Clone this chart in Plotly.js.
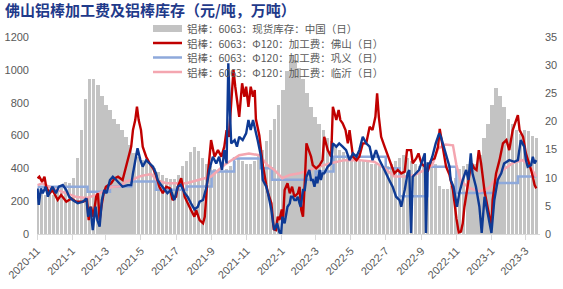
<!DOCTYPE html>
<html>
<head>
<meta charset="utf-8">
<script src="https://cdn.plot.ly/plotly-3.0.1.min.js"></script>
<style>html,body{margin:0;padding:0;background:#fff}#chart{width:563px;height:289px}</style>
</head>
<body>
<div id="chart"></div>
<script>
// ---- Inventory (万吨), weekly, right axis ----
const invDates = [
'2020-11-02','2020-11-09','2020-11-16','2020-11-23','2020-11-30','2020-12-07','2020-12-14','2020-12-21','2020-12-28',
'2021-01-04','2021-01-11','2021-01-18','2021-01-25','2021-02-01','2021-02-08','2021-02-15','2021-02-22','2021-03-01','2021-03-08','2021-03-15','2021-03-22','2021-03-29',
'2021-04-05','2021-04-12','2021-04-19','2021-04-26','2021-05-03','2021-05-10','2021-05-17','2021-05-24','2021-05-31','2021-06-07','2021-06-14','2021-06-21','2021-06-28',
'2021-07-05','2021-07-12','2021-07-19','2021-07-26','2021-08-02','2021-08-09','2021-08-16','2021-08-23','2021-08-30','2021-09-06','2021-09-13','2021-09-20','2021-09-27',
'2021-10-04','2021-10-11','2021-10-18','2021-10-25','2021-11-01','2021-11-08','2021-11-15','2021-11-22','2021-11-29','2021-12-06','2021-12-13','2021-12-20','2021-12-27',
'2022-01-03','2022-01-10','2022-01-17','2022-01-24','2022-01-31','2022-02-07','2022-02-14','2022-02-21','2022-02-28','2022-03-07','2022-03-14','2022-03-21','2022-03-28',
'2022-04-04','2022-04-11','2022-04-18','2022-04-25','2022-05-02','2022-05-09','2022-05-16','2022-05-23','2022-05-30','2022-06-06','2022-06-13','2022-06-20','2022-06-27',
'2022-07-04','2022-07-11','2022-07-18','2022-07-25','2022-08-01','2022-08-08','2022-08-15','2022-08-22','2022-08-29','2022-09-05','2022-09-12','2022-09-19','2022-09-26',
'2022-10-03','2022-10-10','2022-10-17','2022-10-24','2022-10-31','2022-11-07','2022-11-14','2022-11-21','2022-11-28','2022-12-05','2022-12-12','2022-12-19','2022-12-26',
'2023-01-02','2023-01-09','2023-01-16','2023-01-23','2023-01-30','2023-02-06','2023-02-13','2023-02-20','2023-02-27','2023-03-06','2023-03-13','2023-03-20'];
const invValues = [
7.5,7.2,7.0,7.3,7.0,7.6,8.5,9.2,9.0,
10.0,13.5,18.5,24.0,27.5,27.6,26.5,24.5,23.0,22.0,20.5,19.5,18.5,
17.3,15.8,14.4,13.7,13.2,12.8,12.5,11.8,11.0,10.5,10.0,9.8,9.7,
10.5,12.0,13.0,14.5,15.5,14.8,13.5,12.5,12.0,11.5,11.0,11.0,11.5,
12.0,13.0,13.5,13.0,12.5,12.5,13.0,14.0,15.0,16.5,18.5,20.5,23.0,
25.5,29.0,31.8,31.0,29.5,27.5,25.0,22.5,20.8,19.5,18.5,17.0,16.5,
15.5,15.0,14.5,14.0,13.8,13.5,13.0,13.0,13.0,12.5,12.5,12.0,12.0,
12.0,12.5,13.0,13.5,14.0,13.5,13.0,12.5,12.0,12.0,12.5,13.0,12.5,
8.5,8.0,8.0,8.5,10.0,11.5,12.0,12.5,12.0,12.5,14.0,17.0,19.5,
23.0,26.0,24.5,22.5,20.5,19.5,18.5,17.8,18.5,18.3,17.5,17.0];

// ---- 佛山 processing fee (元/吨) ----
const foshanDates = [
'2020-11-02','2020-11-05','2020-11-10','2020-11-14','2020-11-17','2020-11-23','2020-11-28','2020-12-07','2020-12-13','2020-12-22','2020-12-31',
'2021-01-08','2021-01-20','2021-01-27','2021-01-30','2021-02-03','2021-02-07','2021-02-12','2021-02-15','2021-02-18','2021-02-21','2021-02-25',
'2021-03-01','2021-03-10','2021-03-16','2021-03-22','2021-03-30','2021-04-05','2021-04-14','2021-04-17','2021-04-21','2021-04-24','2021-04-27',
'2021-05-01','2021-05-04','2021-05-10','2021-05-16','2021-05-22','2021-05-27','2021-06-02','2021-06-08','2021-06-14','2021-06-20','2021-06-25',
'2021-07-01','2021-07-04','2021-07-10','2021-07-16','2021-07-21','2021-07-27','2021-08-02','2021-08-05','2021-08-11','2021-08-17','2021-08-20','2021-08-25','2021-08-31',
'2021-09-06','2021-09-12','2021-09-18','2021-09-23','2021-09-27','2021-10-01','2021-10-05','2021-10-09','2021-10-12','2021-10-16','2021-10-19','2021-10-24','2021-10-28','2021-10-31',
'2021-11-04','2021-11-08','2021-11-12','2021-11-15','2021-11-17','2021-11-23','2021-11-29','2021-12-05','2021-12-08','2021-12-14','2021-12-18','2021-12-22','2021-12-25','2021-12-28',
'2022-01-01','2022-01-03','2022-01-06','2022-01-11','2022-01-15','2022-01-19','2022-01-23','2022-01-29','2022-02-01','2022-02-04','2022-02-07','2022-02-10','2022-02-13','2022-02-17','2022-02-21','2022-02-24',
'2022-03-02','2022-03-08','2022-03-13','2022-03-16','2022-03-22','2022-03-28','2022-03-31','2022-04-06','2022-04-10','2022-04-13','2022-04-17','2022-04-22','2022-04-26','2022-04-29',
'2022-05-05','2022-05-11','2022-05-16','2022-05-22','2022-05-28','2022-06-03','2022-06-08','2022-06-13','2022-06-16','2022-06-19','2022-06-23','2022-06-29',
'2022-07-05','2022-07-11','2022-07-16','2022-07-22','2022-07-28','2022-08-03','2022-08-07','2022-08-14','2022-08-17','2022-08-23','2022-08-27',
'2022-09-01','2022-09-07','2022-09-12','2022-09-18','2022-09-24','2022-09-30','2022-10-03','2022-10-08','2022-10-14','2022-10-20','2022-10-26',
'2022-11-01','2022-11-05','2022-11-09','2022-11-12','2022-11-15','2022-11-20','2022-11-24','2022-11-28','2022-12-02','2022-12-06','2022-12-10','2022-12-14','2022-12-20','2022-12-26',
'2023-01-01','2023-01-03','2023-01-09','2023-01-15','2023-01-21','2023-01-27','2023-02-01','2023-02-07','2023-02-13','2023-02-16','2023-02-19','2023-02-25',
'2023-03-02','2023-03-08','2023-03-11','2023-03-14','2023-03-17','2023-03-20'];
const foshanValues = [
339,349,318,349,288,248,268,207,238,197,217,
197,197,207,85,166,105,227,248,85,166,248,
288,309,339,349,329,410,532,633,694,775,694,
633,532,471,430,400,360,288,248,288,280,207,
227,288,340,227,187,146,105,146,85,65,105,349,572,
471,511,471,532,633,592,800,1000,900,796,714,918,836,897,
775,897,836,877,700,600,420,300,250,187,30,24,105,85,
150,70,268,309,248,288,227,248,288,146,105,309,552,511,471,420,
400,420,450,592,511,471,775,694,755,694,674,633,552,633,
471,450,471,552,552,653,633,714,857,714,592,532,
471,410,369,390,369,380,511,511,430,460,491,
430,410,380,450,460,532,640,540,410,360,268,
95,10,15,65,166,280,369,430,400,390,511,430,260,150,
45,207,369,450,552,572,511,633,694,724,633,592,
491,430,390,349,300,278];

// ---- dark blue processing fee series (not named in the visible legend) ----
const navyDates = [
'2020-11-02','2020-11-04','2020-11-08','2020-11-11','2020-11-16','2020-11-20','2020-11-23','2020-11-28','2020-12-04','2020-12-09','2020-12-16','2020-12-22','2020-12-27',
'2021-01-02','2021-01-11','2021-01-20','2021-01-26','2021-01-29','2021-02-02','2021-02-06','2021-02-11','2021-02-14','2021-02-18','2021-02-22','2021-02-26',
'2021-03-02','2021-03-08','2021-03-13','2021-03-19','2021-03-25','2021-03-30','2021-04-08','2021-04-14','2021-04-17','2021-04-21','2021-04-25','2021-04-30',
'2021-05-04','2021-05-10','2021-05-16','2021-05-22','2021-05-27','2021-05-30','2021-06-05','2021-06-11','2021-06-16','2021-06-22','2021-06-28',
'2021-07-04','2021-07-09','2021-07-16','2021-07-21','2021-07-27','2021-08-02','2021-08-08','2021-08-11','2021-08-17','2021-08-23','2021-08-28',
'2021-09-03','2021-09-09','2021-09-14','2021-09-19','2021-09-23','2021-09-27','2021-09-30','2021-10-03','2021-10-05','2021-10-11','2021-10-15','2021-10-19','2021-10-25','2021-10-31',
'2021-11-04','2021-11-08','2021-11-12','2021-11-20','2021-11-26','2021-11-29','2021-12-05','2021-12-08','2021-12-14','2021-12-17','2021-12-19','2021-12-24','2021-12-28','2021-12-31',
'2022-01-02','2022-01-06','2022-01-09','2022-01-11','2022-01-15','2022-01-17','2022-01-20','2022-01-23','2022-01-26','2022-01-29',
'2022-02-01','2022-02-03','2022-02-07','2022-02-10','2022-02-13','2022-02-15','2022-02-18','2022-02-21','2022-02-24','2022-02-27',
'2022-03-02','2022-03-04','2022-03-08','2022-03-10','2022-03-13','2022-03-16','2022-03-22','2022-03-28','2022-03-31',
'2022-04-06','2022-04-11','2022-04-17','2022-04-23','2022-04-29','2022-05-05','2022-05-11','2022-05-16','2022-05-22','2022-05-28',
'2022-06-03','2022-06-08','2022-06-14','2022-06-20','2022-06-26','2022-07-01','2022-07-07','2022-07-13','2022-07-19','2022-07-25','2022-07-28',
'2022-08-03','2022-08-08','2022-08-11','2022-08-14','2022-08-17','2022-08-23','2022-08-28','2022-09-03','2022-09-07','2022-09-09','2022-09-12','2022-09-16','2022-09-20','2022-09-26',
'2022-10-02','2022-10-05','2022-10-10','2022-10-14','2022-10-20','2022-10-22','2022-10-27','2022-11-02','2022-11-06','2022-11-12','2022-11-18','2022-11-22','2022-11-26','2022-11-29',
'2022-12-05','2022-12-11','2022-12-15','2022-12-20','2022-12-26','2023-01-01','2023-01-06','2023-01-12','2023-01-18','2023-01-23',
'2023-02-01','2023-02-10','2023-02-16','2023-02-21','2023-02-27','2023-03-02','2023-03-05','2023-03-11','2023-03-14','2023-03-17','2023-03-20'];
const navyValues = [
278,177,278,248,288,227,258,288,248,288,298,268,227,
207,187,197,217,105,166,24,166,85,45,207,268,
248,329,349,329,309,288,298,298,369,450,522,450,
410,450,430,410,370,329,298,268,248,268,207,
288,300,250,227,187,150,166,197,207,288,390,
471,430,471,390,511,430,1040,735,552,572,532,592,572,613,
694,633,694,572,471,329,288,248,146,65,24,65,10,4,
105,65,146,166,187,227,227,207,207,227,
187,166,268,268,349,369,390,329,329,288,
349,309,390,329,369,369,410,430,552,
532,552,532,511,450,491,471,511,592,552,
532,450,511,450,410,369,329,288,227,207,166,
268,369,390,6,349,369,390,450,491,6,430,430,471,552,
613,592,532,471,410,329,288,166,248,329,390,329,491,369,
288,166,6,227,105,6,207,329,369,430,
450,440,450,572,532,450,410,420,470,430,450];

// ---- 巩义 processing fee (step) ----
const gongyiDates = ['2020-11-02','2021-01-28','2021-03-08','2021-04-14','2021-05-27','2021-07-20','2021-09-01','2021-10-10','2021-11-25','2021-12-15','2022-01-20','2022-03-01','2022-04-01','2022-07-01','2022-07-25','2022-09-12','2022-11-01','2023-01-06','2023-02-16','2023-03-20'];
const gongyiValues = [288,258,290,320,270,290,380,460,400,330,330,380,470,400,230,410,250,310,350,350];

// ---- 临沂 processing fee ----
const linyiDates = ['2020-11-02','2020-11-10','2020-11-28','2020-12-10','2020-12-22','2021-01-09','2021-01-27','2021-02-13','2021-03-02','2021-03-12','2021-03-25','2021-04-05','2021-04-16','2021-04-28','2021-05-10','2021-05-19','2021-05-28','2021-06-14','2021-07-19','2021-08-11','2021-08-31','2021-09-23','2021-10-19','2021-11-05','2021-11-23','2021-12-07','2021-12-19','2022-01-02','2022-01-15','2022-02-01','2022-02-18','2022-03-08','2022-03-25','2022-04-20','2022-05-16','2022-06-11','2022-06-29','2022-07-16','2022-08-03','2022-08-21','2022-09-07','2022-09-20','2022-09-30','2022-10-13','2022-10-26','2022-11-01','2022-11-09','2022-11-24','2022-12-11','2022-12-28','2023-01-06','2023-01-21','2023-02-06','2023-02-24','2023-03-08','2023-03-20'];
const linyiValues = [298,309,278,265,248,225,220,240,268,288,290,320,330,350,360,365,330,309,309,329,350,420,480,490,480,420,390,340,360,370,390,410,430,450,450,440,400,350,350,360,390,420,520,545,540,420,320,280,260,280,330,390,430,450,420,350];

const seriesNames = {
  inv: '铝棒：6063：现货库存：中国（日）',
  foshan: '铝棒：6063：Φ120：加工费：佛山（日）',
  gongyi: '铝棒：6063：Φ120：加工费：巩义（日）',
  linyi: '铝棒：6063：Φ120：加工费：临沂（日）',
  navy: '铝棒：6063：Φ120：加工费（深蓝线）'
};

const C = {bar:'#C3C3C3', red:'#C00000', navy:'#0E3A94', lblue:'#8EA9DB', pink:'#F4A6B0', text:'#595959', axis:'#D9D9D9'};

const traces = [
  {type:'bar', x:invDates, y:invValues, name:seriesNames.inv, yaxis:'y', marker:{color:C.bar}, width:5.6*86400000},
  {type:'scatter', mode:'lines', x:gongyiDates, y:gongyiValues, name:seriesNames.gongyi, yaxis:'y2', line:{color:C.lblue, width:2.5, shape:'hv'}},
  {type:'scatter', mode:'lines', x:linyiDates, y:linyiValues, name:seriesNames.linyi, yaxis:'y2', line:{color:C.pink, width:2.5}},
  {type:'scatter', mode:'lines', x:foshanDates, y:foshanValues, name:seriesNames.foshan, yaxis:'y2', line:{color:C.red, width:2.4}},
  {type:'scatter', mode:'lines', x:navyDates, y:navyValues, name:seriesNames.navy, yaxis:'y2', line:{color:C.navy, width:2.4}}
];

// legend drawn manually (compact, as in the reference)
const L = {l:37, r:23, t:37, b:55, W:563, H:289};
const pw = L.W - L.l - L.r, ph = L.H - L.t - L.b;
const px = v => (v - L.l) / pw;
const py = v => (L.H - L.b - v) / ph;
const legendRows = [
  {name:seriesNames.inv, y:28.5, kind:'box', color:C.bar},
  {name:seriesNames.foshan, y:43, kind:'line', color:C.red},
  {name:seriesNames.gongyi, y:57.5, kind:'line', color:C.lblue},
  {name:seriesNames.linyi, y:72, kind:'line', color:C.pink}
];
const shapes = [], annotations = [];
legendRows.forEach(r => {
  if (r.kind === 'box') {
    shapes.push({type:'rect', xref:'paper', yref:'paper', x0:px(153), x1:px(182), y0:py(r.y+3.5), y1:py(r.y-3.5), fillcolor:r.color, line:{width:0}});
  } else {
    shapes.push({type:'line', xref:'paper', yref:'paper', x0:px(153), x1:px(182), y0:py(r.y), y1:py(r.y), line:{color:r.color, width:2.5}});
  }
  annotations.push({xref:'paper', yref:'paper', x:px(186), y:py(r.y), xanchor:'left', yanchor:'middle', showarrow:false, borderpad:0,
    text:r.name, font:{family:'Noto Sans CJK SC', size:10.5, color:C.text}});
});

const tickFont = {family:'Liberation Sans, Arial, sans-serif', size:11, color:C.text};
const layout = {
  width:L.W, height:L.H, margin:{l:L.l, r:L.r, t:L.t, b:L.b, pad:0},
  paper_bgcolor:'#ffffff', plot_bgcolor:'#ffffff', showlegend:false, bargap:0,
  title:{text:'佛山铝棒加工费及铝棒库存（元/吨，万吨）', xref:'container', yref:'container', x:5/563, xanchor:'left', y:1-11/289, yanchor:'middle',
    font:{family:'Noto Sans CJK SC', size:15, color:'#1F3A8A', weight:'bold'}},
  xaxis:{type:'date', range:['2020-11-01','2023-03-26 12:00'], tick0:'2020-11-01', dtick:'M2', tickformat:'%Y-%-m', tickangle:-45,
    ticks:'outside', ticklen:5, tickcolor:C.axis, showline:true, linecolor:C.axis, linewidth:1, showgrid:false, zeroline:false, tickfont:tickFont},
  yaxis:{range:[0,35], dtick:5, side:'right', showgrid:false, zeroline:false, showline:false, ticks:'', tickfont:tickFont, ticklabelstandoff:4},
  yaxis2:{range:[0,1200], dtick:200, side:'left', overlaying:'y', showgrid:false, zeroline:false, showline:false, ticks:'', tickfont:tickFont, ticklabelstandoff:7},
  shapes:shapes, annotations:annotations
};

Plotly.newPlot('chart', traces, layout, {staticPlot:true, displayModeBar:false});
</script>
</body>
</html>
